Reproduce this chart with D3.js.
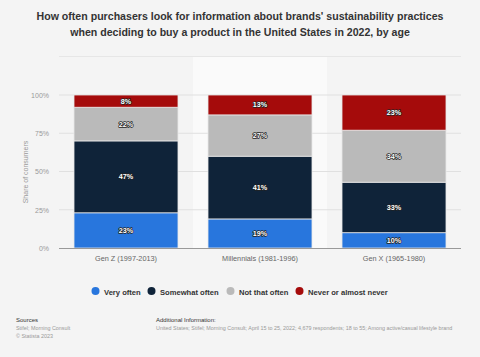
<!DOCTYPE html>
<html><head><meta charset="utf-8">
<script src="https://cdn.jsdelivr.net/npm/d3@7"></script>
<style>
html,body{margin:0;padding:0;background:#f4f4f4;}
svg{display:block;font-family:"Liberation Sans",Arial,sans-serif;}
</style></head>
<body>
<svg id="c" width="480" height="357"></svg>
<script>
const categories = ["Gen Z (1997-2013)", "Millennials (1981-1996)", "Gen X (1965-1980)"];
const seriesNames = ["Very often", "Somewhat often", "Not that often", "Never or almost never"];
const veryOften = [23, 19, 10];
const somewhatOften = [47, 41, 33];
const notThatOften = [22, 27, 34];
const neverAlmostNever = [8, 13, 23];
const yTicks = [0, 25, 50, 75, 100];
const colors = ["#2876dd", "#0f2339", "#bababa", "#a50b0b"];

const seriesValues = [veryOften, somewhatOften, notThatOften, neverAlmostNever];
const data = categories.map((c, i) => {
  const o = {cat: c};
  seriesNames.forEach((s, j) => o[s] = seriesValues[j][i]);
  return o;
});

const svg = d3.select("#c");
svg.append("rect").attr("width", 480).attr("height", 357).attr("fill", "#f4f4f4");

// Title
const title = svg.append("text").attr("text-anchor", "middle").attr("fill", "#333")
  .style("font-size", "10.6px").style("font-weight", "bold");
title.append("tspan").attr("x", 240).attr("y", 20).text("How often purchasers look for information about brands' sustainability practices");
title.append("tspan").attr("x", 240).attr("y", 36).text("when deciding to buy a product in the United States in 2022, by age");

const x = d3.scaleBand().domain(categories).range([59, 461]).paddingInner(0.224).paddingOuter(0.112);
const xb = d3.scaleBand().domain(categories).range([59, 461]);
const y = d3.scaleLinear().domain([0, 100]).range([248, 95]);

// alternate band background
svg.append("rect").attr("x", xb(categories[1])).attr("y", 56).attr("width", xb.bandwidth()).attr("height", 192).attr("fill", "#fafafa");

// gridlines
svg.append("g").selectAll("line").data(yTicks.filter(t => t > 0)).join("line")
  .attr("x1", 59).attr("x2", 461).attr("y1", d => y(d)).attr("y2", d => y(d))
  .attr("stroke", "#e0e0e0").attr("stroke-width", 1).attr("stroke-dasharray", "1,0");
svg.append("line").attr("x1", 59).attr("x2", 461).attr("y1", 56.5).attr("y2", 56.5).attr("stroke", "#e6e6e6");

// y axis
const yAxis = svg.append("g").attr("transform", "translate(51,0)")
  .call(d3.axisLeft(y).tickValues(yTicks).tickFormat(d => d + "%").tickSize(0).tickPadding(2));
yAxis.select(".domain").remove();
yAxis.selectAll("text").attr("fill", "#999").style("font-size", "7px").style("font-family", "Liberation Sans, Arial, sans-serif");

svg.append("text").attr("transform", "translate(28,172) rotate(-90)").attr("text-anchor", "middle")
  .attr("fill", "#999").style("font-size", "7px").text("Share of consumers");

// stacked bars
const stack = d3.stack().keys(seriesNames)(data);
const g = svg.append("g");
stack.forEach((layer, j) => {
  g.selectAll(null).data(layer).join("rect")
    .attr("x", d => x(d.data.cat)).attr("width", x.bandwidth())
    .attr("y", d => y(d[1])).attr("height", d => y(d[0]) - y(d[1]))
    .attr("fill", colors[j]).attr("stroke", "#e8e8e8").attr("stroke-width", 0.8);
});
stack.forEach((layer, j) => {
  g.selectAll(null).data(layer).join("text")
    .attr("x", d => x(d.data.cat) + x.bandwidth() / 2)
    .attr("y", d => (y(d[0]) + y(d[1])) / 2 + 2.5)
    .attr("text-anchor", "middle").attr("fill", "#fff")
    .attr("stroke", "#222").attr("stroke-width", 1.4).attr("paint-order", "stroke")
    .attr("stroke-linejoin", "round")
    .style("font-size", "7.2px").style("font-weight", "bold")
    .text(d => (d[1] - d[0]) + "%");
});

// x axis
svg.append("line").attr("x1", 59).attr("x2", 461).attr("y1", 248.5).attr("y2", 248.5).attr("stroke", "#999").attr("stroke-width", 1);
const xAxis = svg.append("g").attr("transform", "translate(0,249)")
  .call(d3.axisBottom(xb).tickSize(0).tickPadding(7));
xAxis.select(".domain").remove();
xAxis.selectAll("text").attr("fill", "#666").style("font-size", "7.3px").style("font-family", "Liberation Sans, Arial, sans-serif");

// legend
const legendItems = [
  {name: seriesNames[0], x: 91},
  {name: seriesNames[1], x: 147},
  {name: seriesNames[2], x: 226},
  {name: seriesNames[3], x: 295}
];
const lg = svg.append("g");
legendItems.forEach((it, i) => {
  lg.append("circle").attr("cx", it.x + 4.5).attr("cy", 291).attr("r", 4).attr("fill", colors[i]);
  lg.append("text").attr("x", it.x + 13).attr("y", 294.5).attr("fill", "#333")
    .style("font-size", "7.6px").style("font-weight", "bold").text(it.name);
});

// footer
svg.append("text").attr("x", 16).attr("y", 322).attr("fill", "#333").style("font-size", "6px").text("Sources");
svg.append("text").attr("x", 16).attr("y", 330).attr("fill", "#999").style("font-size", "5.4px").text("Stifel; Morning Consult");
svg.append("text").attr("x", 16).attr("y", 338).attr("fill", "#999").style("font-size", "5.4px").text("© Statista 2023");
svg.append("text").attr("x", 156).attr("y", 322).attr("fill", "#333").style("font-size", "6px").text("Additional Information:");
svg.append("text").attr("x", 156).attr("y", 330).attr("fill", "#999").style("font-size", "5.4px")
  .text("United States; Stifel; Morning Consult; April 15 to 25, 2022; 4,679 respondents; 18 to 55; Among active/casual lifestyle brand");
</script>
</body></html>
